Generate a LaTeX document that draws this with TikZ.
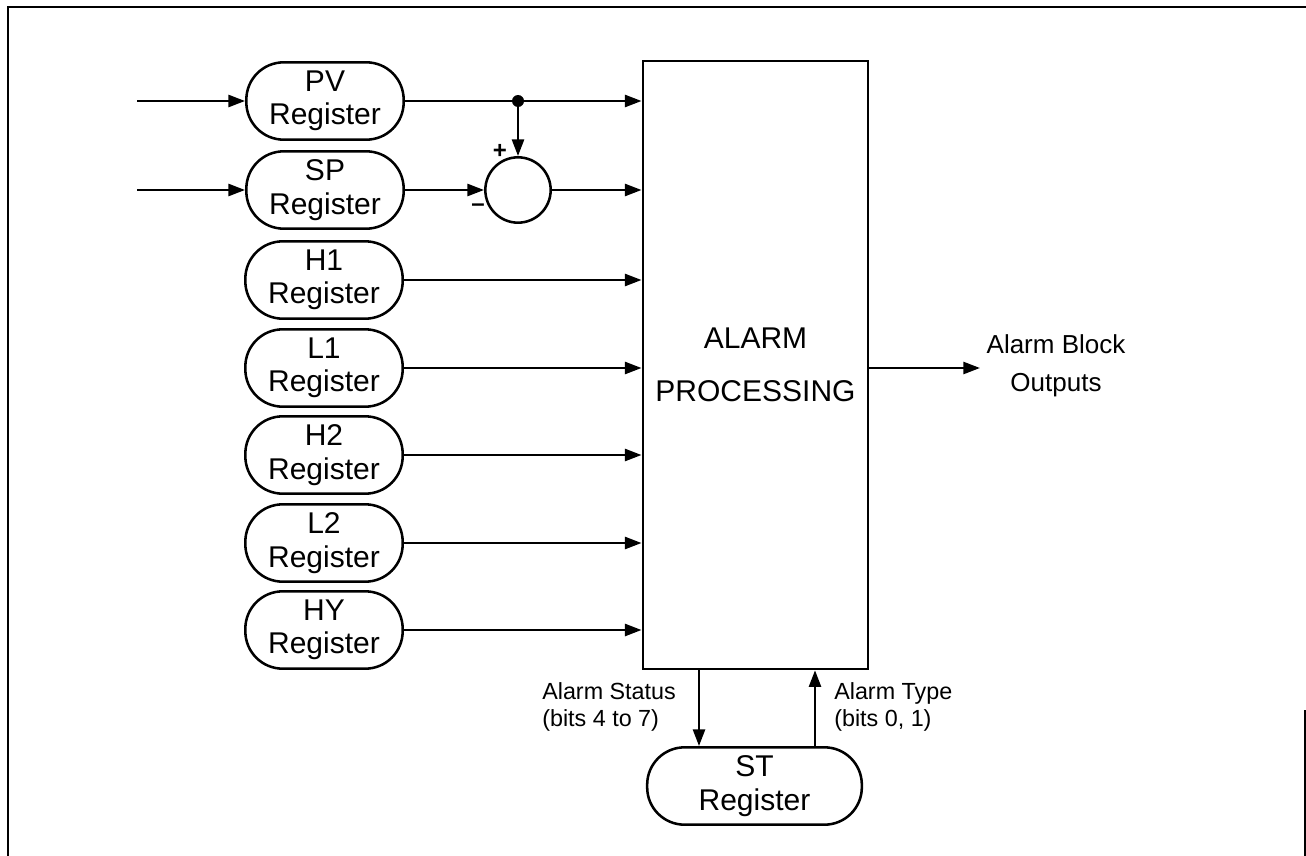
\documentclass[tikz,border=0pt]{standalone}
\usepackage{fontspec}
\setmainfont{Liberation Sans}
\usetikzlibrary{arrows.meta,calc}
\begin{document}
\begin{tikzpicture}[x=0.75pt,y=-0.75pt,
  line width=1.9pt,
  reg/.style={draw, rounded corners=28pt, minimum width=118pt, minimum height=58pt,
    inner sep=0pt, align=center, font=\fontsize{22.5}{25}\selectfont},
  arr/.style={-{Triangle[length=12.5pt,width=9pt]}},
  small/.style={font=\fontsize{17.5}{20}\selectfont, align=left, inner sep=0pt},
]
\useasboundingbox (0,0) rectangle (1306,856);
% frame
\draw[line width=1.3pt] (8,856) -- (8,7) -- (1306,7);
\draw[line width=1.3pt] (1305,710) -- (1305,856);

% main box
\node[draw, minimum width=169pt, minimum height=456pt, inner sep=0pt,
  align=center, font=\fontsize{22.5}{40}\selectfont] (box) at (755.5,365) {ALARM\\PROCESSING};

% registers
\node[reg] (pv) at (325,101) {PV\\Register};
\node[reg] (sp) at (325,190) {SP\\Register};
\node[reg] (h1) at (324,280) {H1\\Register};
\node[reg] (l1) at (324,368) {L1\\Register};
\node[reg] (h2) at (324,455) {H2\\Register};
\node[reg] (l2) at (324,543) {L2\\Register};
\node[reg] (hy) at (324,630) {HY\\Register};
\node[reg, minimum width=161pt] (st) at (754.5,786) {ST\\Register};

% inputs
\coordinate (inpv) at (137,101);
\coordinate (insp) at (137,190);
\draw[arr] (inpv) -- (pv.west);
\draw[arr] (insp) -- (sp.west);

% summing junction
\node[draw, circle, minimum size=49pt, inner sep=0pt] (sum) at (518,190) {};
\coordinate (dot) at (518,101);
\fill (dot) circle (4.5pt);
\draw[arr] (pv.east) -- (pv.east -| box.west);
\draw[arr] (dot) -- (sum.north);
\draw[arr] (sp.east) -- (sum.west);
\draw[arr] (sum.east) -- (sum.east -| box.west);
\node[font=\fontsize{18}{18}\selectfont\bfseries, inner sep=0pt] (plus) at (500,151) {+};
\node[font=\fontsize{18}{18}\selectfont\bfseries, inner sep=0pt] (minus) at (478,208) {\textendash};

% other registers
\foreach \r in {h1,l1,h2,l2,hy}{
  \draw[arr] (\r.east) -- (\r.east -| box.west);
}

% output
\coordinate (out) at (980,368);
\draw[arr] (box.east |- out) -- (out);
\node[align=center, font=\fontsize{19.5}{28.5}\selectfont] (outl) at (1056,366) {Alarm Block\\Outputs};

% ST connections
\draw[arr] (box.south -| 699,0) -- (st.north -| 699,0);
\draw[arr] (st.north -| 815,0) -- (box.south -| 815,0);
\node[small, anchor=west] (ls) at (541,707) {Alarm Status\\(bits 4 to 7)};
\node[small, anchor=west] (lt) at (833,707) {Alarm Type\\(bits 0, 1)};
\end{tikzpicture}
\end{document}
